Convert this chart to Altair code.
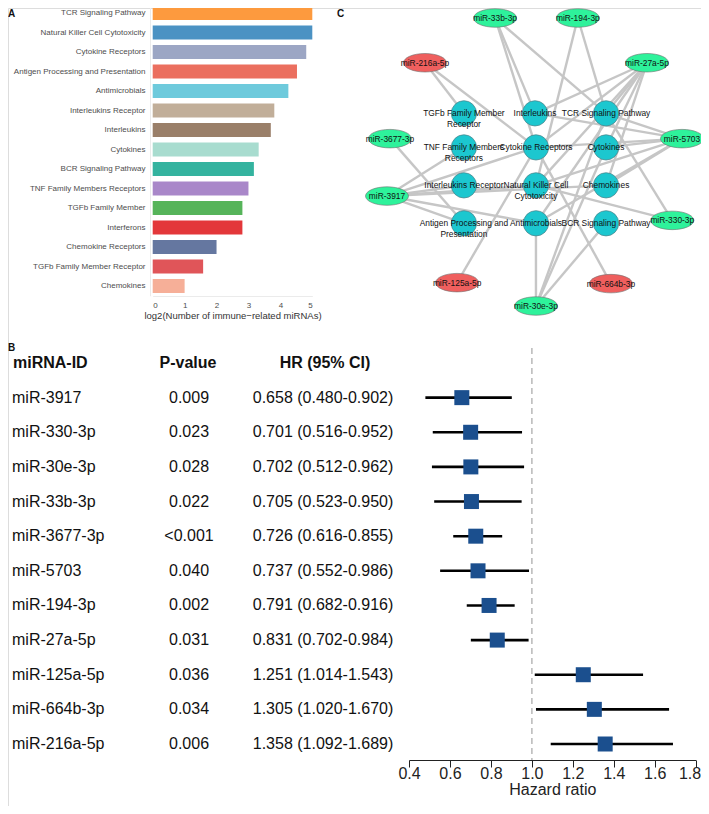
import altair as alt
import pandas as pd

# ---------------- Panel A : bar chart ----------------
pathways = ["TCR Signaling Pathway", "Natural Killer Cell Cytotoxicity", "Cytokine Receptors",
            "Antigen Processing and Presentation", "Antimicrobials", "Interleukins Receptor",
            "Interleukins", "Cytokines", "BCR Signaling Pathway", "TNF Family Members Receptors",
            "TGFb Family Member", "Interferons", "Chemokine Receptors",
            "TGFb Family Member Receptor", "Chemokines"]
log2_counts = [5.0, 5.0, 4.81, 4.52, 4.25, 3.81, 3.70, 3.32, 3.17, 3.0, 2.81, 2.81, 2.0, 1.58, 1.0]
bar_colors = ["#fd9a3e", "#4b92c3", "#9ca6c4", "#eb6f5f", "#6ecadc", "#c1ae99", "#9a7f69",
              "#a8dccf", "#34b39f", "#a987c9", "#56b45a", "#e3373a", "#6577a0", "#e05559", "#f6af98"]
a_ticks = [0, 1, 2, 3, 4, 5]

# ---------------- Panel B : forest plot ----------------
mirna_ids = ["miR-3917", "miR-330-3p", "miR-30e-3p", "miR-33b-3p", "miR-3677-3p", "miR-5703",
             "miR-194-3p", "miR-27a-5p", "miR-125a-5p", "miR-664b-3p", "miR-216a-5p"]
p_values = ["0.009", "0.023", "0.028", "0.022", "<0.001", "0.040", "0.002", "0.031", "0.036", "0.034", "0.006"]
hr = [0.658, 0.701, 0.702, 0.705, 0.726, 0.737, 0.791, 0.831, 1.251, 1.305, 1.358]
ci_low = [0.480, 0.516, 0.512, 0.523, 0.616, 0.552, 0.682, 0.702, 1.014, 1.020, 1.092]
ci_high = [0.902, 0.952, 0.962, 0.950, 0.855, 0.986, 0.916, 0.984, 1.543, 1.670, 1.689]
hr_ticks = [0.4, 0.6, 0.8, 1.0, 1.2, 1.4, 1.6, 1.8]
headers = ["miRNA-ID", "P-value", "HR (95% CI)"]

# ---------------- Panel C : network ----------------
node_names = ["miR-33b-3p", "miR-194-3p", "miR-216a-5p", "miR-27a-5p",
              "TGFb Family Member Receptor", "Interleukins", "TCR Signaling Pathway",
              "miR-3677-3p", "TNF Family Members Receptors", "Cytokine Receptors", "Cytokines", "miR-5703",
              "Interleukins Receptor", "Natural Killer Cell Cytotoxicity", "Chemokines", "miR-3917",
              "Antigen Processing and Presentation", "Antimicrobials", "BCR Signaling Pathway", "miR-330-3p",
              "miR-125a-5p", "miR-664b-3p", "miR-30e-3p"]
node_labels = ["miR-33b-3p", "miR-194-3p", "miR-216a-5p", "miR-27a-5p",
               "TGFb Family Member\nReceptor", "Interleukins", "TCR Signaling Pathway",
               "miR-3677-3p", "TNF Family Members\nReceptors", "Cytokine Receptors", "Cytokines", "miR-5703",
               "Interleukins Receptor", "Natural Killer Cell\nCytotoxicity", "Chemokines", "miR-3917",
               "Antigen Processing and\nPresentation", "Antimicrobials", "BCR Signaling Pathway", "miR-330-3p",
               "miR-125a-5p", "miR-664b-3p", "miR-30e-3p"]
node_type = ["down", "down", "up", "down",
             "pathway", "pathway", "pathway",
             "down", "pathway", "pathway", "pathway", "down",
             "pathway", "pathway", "pathway", "down",
             "pathway", "pathway", "pathway", "down",
             "up", "up", "down"]
# layout coordinates of the network (layout units)
node_x = [178, 263, 106, 334, 146, 219, 292, 70, 146, 220, 292, 370,
          146, 220, 292, 67, 146, 220, 292, 360, 139, 297, 220]
node_y = [10, 10, 56, 56, 108, 108, 108, 134, 143, 143, 143, 134,
          182, 182, 182, 193, 221, 221, 221, 218, 282, 283, 306]

TCR, NK = "TCR Signaling Pathway", "Natural Killer Cell Cytotoxicity"
CR, CY = "Cytokine Receptors", "Cytokines"
IL, ILR = "Interleukins", "Interleukins Receptor"
AM, CH = "Antimicrobials", "Chemokines"
AG, BCR = "Antigen Processing and Presentation", "BCR Signaling Pathway"
TNF, TGR = "TNF Family Members Receptors", "TGFb Family Member Receptor"
edge_from = (["miR-33b-3p"] * 3 + ["miR-194-3p"] * 2 + ["miR-216a-5p"] * 2 + ["miR-27a-5p"] * 7 +
             ["miR-5703"] * 7 + ["miR-3677-3p"] + ["miR-3917"] * 7 + ["miR-330-3p"] * 2 +
             ["miR-125a-5p"] + ["miR-664b-3p"] + ["miR-30e-3p"] * 4)
edge_to = ([IL, CR, TCR] + [NK, TCR] + [TGR, CR] + [TCR, CY, CR, NK, AM, CH, IL] +
           [TCR, IL, CR, CY, CH, AM, NK] + [AG] + [TNF, ILR, NK, AG, AM, CR, CH] + [TCR, NK] +
           [CR] + [CR] + [AM, BCR, CY, TCR])

FONT = "Liberation Sans"
W, H = 693, 798

# ---------- Panel A chart ----------
dfA = pd.DataFrame({"pathway": pathways, "value": log2_counts})
barsA = alt.Chart(dfA).mark_bar().encode(
    x=alt.X("value:Q",
            scale=alt.Scale(domain=[0, 5], range=[144.7, 304.3], nice=False, zero=True),
            axis=alt.Axis(orient="bottom", offset=288 - H, values=a_ticks, grid=False,
                          ticks=False, tickSize=0, labelPadding=9, labelBaseline="middle",
                          labelFontSize=8, labelColor="#4d4d4d", labelFont=FONT,
                          domainColor="#ebebeb",
                          title="log2(Number of immune\u2212related miRNAs)",
                          titleFontSize=9.5, titleFontWeight="normal", titleColor="#333333",
                          titleFont=FONT, titleY=19, titleBaseline="middle")),
    y=alt.Y("pathway:N", sort=pathways,
            scale=alt.Scale(domain=pathways, range=[-4.75, 287.75], paddingInner=0.28, paddingOuter=0.14),
            axis=alt.Axis(orient="left", offset=-142, title=None, ticks=False, tickSize=0,
                          labelPadding=5, labelFontSize=8, labelColor="#4d4d4d", labelFont=FONT,
                          labelLimit=300, domainColor="#ebebeb")),
    color=alt.Color("pathway:N", scale=alt.Scale(domain=pathways, range=bar_colors), legend=None),
)

# ---------- Panel B chart ----------
row_domain = ["__header__"] + mirna_ids
row_y = alt.Y("key:N", scale=alt.Scale(type="point", domain=row_domain, range=[355, 736], padding=0),
              axis=None)
fx_scale = alt.Scale(domain=[0.4, 1.8], range=[401, 687.7], nice=False, zero=False)

dfB = pd.DataFrame({"key": mirna_ids, "p": p_values, "hr": hr, "lo": ci_low, "hi": ci_high})
dfB["hrtext"] = [f"{h:.3f} ({l:.3f}-{u:.3f})" for h, l, u in zip(hr, ci_low, ci_high)]
dfRef = pd.DataFrame({"v": [1.0]})
dfHead = pd.DataFrame({"key": ["__header__"] * 3, "text": headers, "col": ["id", "p", "hr"]})

ref_line = alt.Chart(dfRef).mark_rule(color="#bdbdbd", strokeWidth=1.6, strokeDash=[6, 4]).encode(
    x=alt.X("v:Q", scale=fx_scale, axis=None), y=alt.value(340), y2=alt.value(752))
ci = alt.Chart(dfB).mark_rule(color="black", strokeWidth=2.6).encode(
    x=alt.X("lo:Q", scale=fx_scale,
            axis=alt.Axis(orient="bottom", offset=752 - H, values=hr_ticks, format=".1f", grid=False,
                          tickSize=7, tickColor="#222222", tickWidth=1, domainColor="#222222",
                          labelPadding=6, labelBaseline="middle", labelFontSize=16,
                          labelColor="#222222", labelFont=FONT, labelFlush=False,
                          labelAlign={"condition": {"test": "datum.value >= 1.79", "value": "right"},
                                      "value": "center"},
                          labelOffset={"condition": {"test": "datum.value >= 1.79", "value": 5},
                                       "value": 0},
                          title="Hazard ratio", titleFontSize=16, titleFontWeight="normal",
                          titleColor="#222222", titleFont=FONT, titleY=29, titleBaseline="middle")),
    x2="hi:Q", y=row_y)
squares = alt.Chart(dfB).mark_square(size=225, color="#1b4f8e", opacity=1).encode(
    x=alt.X("hr:Q", scale=fx_scale, axis=None), y=row_y)

txt_kw = dict(fontSize=16, font=FONT, baseline="middle", color="#111111")
col_id = alt.Chart(dfB).mark_text(align="left", **txt_kw).encode(x=alt.value(4), y=row_y, text="key:N")
col_p = alt.Chart(dfB).mark_text(align="center", **txt_kw).encode(x=alt.value(181), y=row_y, text="p:N")
col_hr = alt.Chart(dfB).mark_text(align="center", **txt_kw).encode(x=alt.value(315), y=row_y, text="hrtext:N")
hd_kw = dict(fontSize=16, font=FONT, baseline="middle", fontWeight="bold", color="#111111")
head_id = alt.Chart(dfHead).transform_filter("datum.col == 'id'").mark_text(align="left", **hd_kw).encode(
    x=alt.value(5), y=row_y, text="text:N")
head_p = alt.Chart(dfHead).transform_filter("datum.col == 'p'").mark_text(align="center", **hd_kw).encode(
    x=alt.value(180), y=row_y, text="text:N")
head_hr = alt.Chart(dfHead).transform_filter("datum.col == 'hr'").mark_text(align="center", **hd_kw).encode(
    x=alt.value(317), y=row_y, text="text:N")

# ---------- Panel C chart ----------
nodes = pd.DataFrame({"name": node_names, "label": node_labels, "type": node_type,
                      "x": node_x, "y": node_y})
pos = nodes.set_index("name")
edges = pd.DataFrame({"src": edge_from, "dst": edge_to})
edges["x1"] = edges["src"].map(pos["x"])
edges["y1"] = edges["src"].map(pos["y"])
edges["x2"] = edges["dst"].map(pos["x"])
edges["y2"] = edges["dst"].map(pos["y"])

nx_scale = alt.Scale(domain=[67, 370], range=[379, 674], nice=False, zero=False)
ny_scale = alt.Scale(domain=[10, 306], range=[10, 298], nice=False, zero=False)

edge_layer = alt.Chart(edges).mark_rule(color="#c6c6c6", strokeWidth=2.4).encode(
    x=alt.X("x1:Q", scale=nx_scale, axis=None), y=alt.Y("y1:Q", scale=ny_scale, axis=None),
    x2="x2:Q", y2="y2:Q")
path_nodes = alt.Chart(nodes).transform_filter("datum.type == 'pathway'").mark_point(
    shape="circle", filled=True, size=640, opacity=1, fill="#1cc7cf", stroke="#4d7f86", strokeWidth=0.7
).encode(x=alt.X("x:Q", scale=nx_scale, axis=None), y=alt.Y("y:Q", scale=ny_scale, axis=None))
ellipse = "M-1,0A1,0.43,0,1,0,1,0A1,0.43,0,1,0,-1,0Z"
mir_nodes = alt.Chart(nodes).transform_filter("datum.type != 'pathway'").mark_point(
    shape=ellipse, filled=True, size=1850, opacity=1, stroke="#6f6f6f", strokeWidth=0.6
).encode(x=alt.X("x:Q", scale=nx_scale, axis=None), y=alt.Y("y:Q", scale=ny_scale, axis=None),
         color=alt.Color("type:N", scale=alt.Scale(domain=["down", "up"], range=["#2ef29b", "#ef5f5e"]),
                         legend=None))
node_text = alt.Chart(nodes).mark_text(fontSize=8.4, font=FONT, color="#111111", lineBreak="\n",
                                       lineHeight=11, baseline="middle").encode(
    x=alt.X("x:Q", scale=nx_scale, axis=None), y=alt.Y("y:Q", scale=ny_scale, axis=None), text="label:N")

# ---------- panel letters ----------
def letter(ch, x, y):
    return alt.Chart(pd.DataFrame({"t": [ch]})).mark_text(
        fontSize=10, fontWeight="bold", font=FONT, align="left", baseline="middle", color="#111111"
    ).encode(x=alt.value(x), y=alt.value(y), text="t:N")

chart = alt.layer(
    barsA,
    ref_line, ci, squares, col_id, col_p, col_hr, head_id, head_p, head_hr,
    edge_layer, path_nodes, mir_nodes, node_text,
    letter("A", 0, 6), letter("B", 0, 340), letter("C", 329, 6),
).resolve_scale(x="independent", y="independent", color="independent").properties(
    width=W, height=H, autosize=alt.AutoSizeParams(type="none"), padding=0
).configure_view(stroke=None, strokeWidth=0).configure(font=FONT)

chart.save("out.html", embed_options={"renderer": "svg", "actions": False})
